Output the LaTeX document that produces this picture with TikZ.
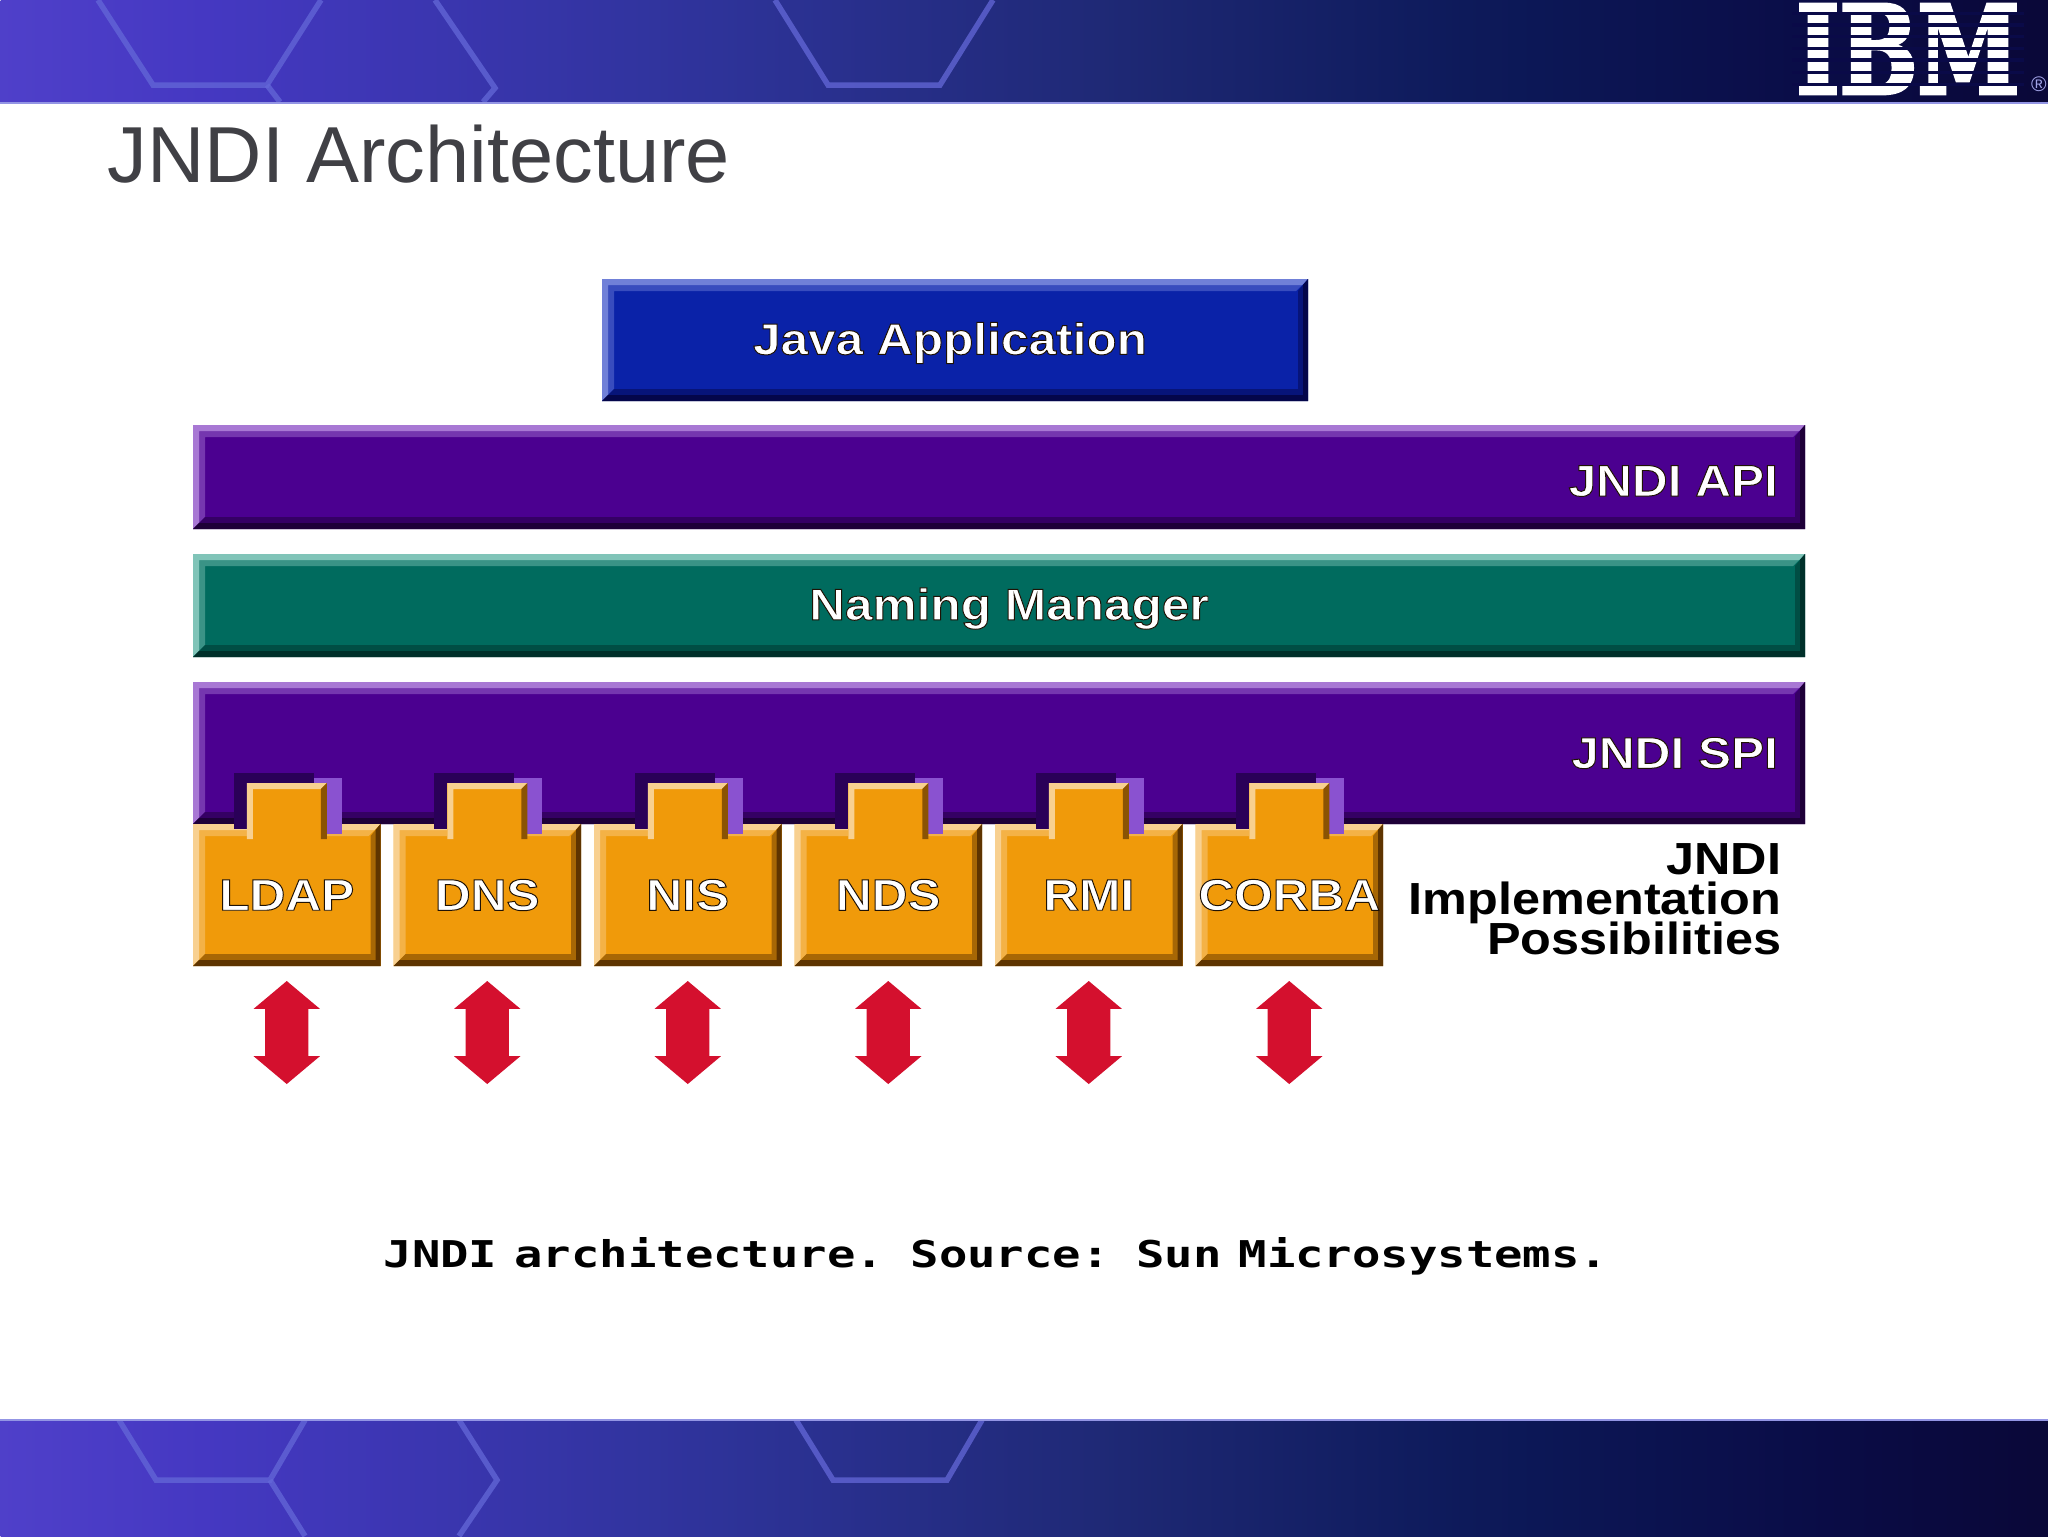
\documentclass[tikz,border=0pt]{standalone}
\usepackage{fontspec}
\usepackage{xcolor}
\usepackage{tikz}
\usetikzlibrary{shapes.arrows, positioning, calc}
\setmainfont{Liberation Sans}
\newfontfamily\labelfont[FakeStretch=1.12]{Liberation Sans}
\newfontfamily\captionfont[FakeStretch=1.28, WordSpace=0.6]{DejaVu Sans Mono}
\newfontfamily\logofont[FakeStretch=0.75]{DejaVu Serif}
\definecolor{titlegray}{HTML}{404045}
\definecolor{javablue}{HTML}{0A22A8}
\definecolor{javalight}{HTML}{7080D8}
\definecolor{javadark}{HTML}{04064A}
\definecolor{apipurple}{HTML}{4B0090}
\definecolor{apilight}{HTML}{A878D4}
\definecolor{apidark}{HTML}{1E0038}
\definecolor{notchdark}{HTML}{2A0058}
\definecolor{notchlight}{HTML}{8A52D0}
\definecolor{namingteal}{HTML}{006B5E}
\definecolor{naminglight}{HTML}{80C4B8}
\definecolor{namingdark}{HTML}{00302A}
\definecolor{plugorange}{HTML}{F09A0A}
\definecolor{pluglight}{HTML}{F8D090}
\definecolor{plugdark}{HTML}{5E3400}
\definecolor{arrowred}{HTML}{D4102E}
\definecolor{hexblue}{HTML}{6468D8}
\definecolor{logodark}{HTML}{0A0A48}
\pgfdeclarehorizontalshading{bannershade}{100bp}{
  rgb(0bp)=(0.31,0.25,0.79); rgb(25bp)=(0.31,0.25,0.79); rgb(30bp)=(0.27,0.22,0.76); rgb(42.5bp)=(0.18,0.20,0.60);
  rgb(52bp)=(0.12,0.16,0.46); rgb(61bp)=(0.05,0.10,0.35); rgb(69bp)=(0.04,0.05,0.28);
  rgb(75bp)=(0.04,0.03,0.22); rgb(100bp)=(0.04,0.03,0.22)}
\newcommand{\embossed}[1]{\special{pdf:code 2 Tr 0.28 w 0.12 0.07 0.02 RG}#1\special{pdf:code 0 Tr}}
\newcommand{\boxfont}{\labelfont\bfseries\fontsize{12.6}{14}\selectfont}

\begin{document}
\begin{tikzpicture}[
  x=0.1mm, y=-0.1mm,
  banner/.style={rectangle, inner sep=0pt, minimum width=204.8mm, shading=bannershade, anchor=north west},
  hexline/.style={draw=hexblue, line width=0.55mm, opacity=0.75},
  bevel/.style n args={3}{rectangle, inner sep=0pt, outer sep=0pt, fill=#1, text=white, font=\boxfont,
    path picture={
      \path (path picture bounding box.north west) coordinate (nw)
            (path picture bounding box.north east) coordinate (ne)
            (path picture bounding box.south west) coordinate (sw)
            (path picture bounding box.south east) coordinate (se);
      \fill[#1!55!#2] (sw) -- (nw) -- (ne) -- ([shift={(-12,12)}]ne) -- ([shift={(12,12)}]nw) -- ([shift={(12,-12)}]sw) -- cycle;
      \fill[#2] (sw) -- (nw) -- (ne) -- ([shift={(-6,6)}]ne) -- ([shift={(6,6)}]nw) -- ([shift={(6,-6)}]sw) -- cycle;
      \fill[#1!50!#3] (sw) -- (se) -- (ne) -- ([shift={(-10,12)}]ne) -- ([shift={(-10,-12)}]se) -- ([shift={(12,-12)}]sw) -- cycle;
      \fill[#3] (sw) -- (se) -- (ne) -- ([shift={(-5,6)}]ne) -- ([shift={(-5,-6)}]se) -- ([shift={(6,-6)}]sw) -- cycle;
    }},
  bar/.style={bevel={apipurple}{apilight}{apidark}, minimum width=161.2mm},
  plugbox/.style={bevel={plugorange}{pluglight}{plugdark}, minimum width=18.75mm, minimum height=14.2mm},
  plugtab/.style={rectangle, inner sep=0pt, outer sep=0pt, fill=plugorange, minimum width=8mm, minimum height=5.6mm,
    preaction={fill=notchlight, transform canvas={xshift=1.5mm, yshift=0.5mm}},
    preaction={fill=notchdark, transform canvas={xshift=-1.3mm, yshift=1mm}},
    path picture={
      \path (path picture bounding box.north west) coordinate (nw)
            (path picture bounding box.north east) coordinate (ne)
            (path picture bounding box.south west) coordinate (sw)
            (path picture bounding box.south east) coordinate (se);
      \fill[pluglight] (sw) -- (nw) -- (ne) -- ([shift={(-6,6)}]ne) -- ([shift={(6,6)}]nw) -- ([shift={(6,0)}]sw) -- cycle;
      \fill[plugdark!70!plugorange] (se) -- (ne) -- ([shift={(-6,6)}]ne) -- ([shift={(-6,0)}]se) -- cycle;
    }},
  boxlabel/.style={inner sep=0pt, outer sep=0pt, text=white, font=\boxfont},
  bothways/.style={double arrow, draw=none, fill=arrowred, inner sep=2.1mm, outer sep=0pt, shape border rotate=90,
    minimum height=10.3mm, double arrow head extend=1.15mm,
    double arrow head indent=0pt, double arrow tip angle=100}
]
\useasboundingbox (0,0) rectangle (2048,1536);

% Top banner
\node[banner, minimum height=10.2mm] (topbar) at (0,0) {};
\draw[hexblue!70!white, line width=0.2mm] (topbar.south west) -- (topbar.south east);
\begin{scope}
  \clip (0,0) rectangle (2048,101);
  \draw[hexline] (98,0) -- (153,85) -- (267,85) -- (321,0);
  \draw[hexline] (267,85) -- (280,102);
  \draw[hexline] (435,0) -- (495,88) -- (483,102);
  \draw[hexline] (775,0) -- (828,85) -- (940,85) -- (993,0);
\end{scope}

% Logo
\node[inner sep=0pt, text=white, font=\logofont\bfseries\fontsize{35}{35}\selectfont] (ibmlogo) at (1908,49) {\special{pdf:code 2 Tr 0.9 w 1 1 1 RG}IBM\special{pdf:code 0 Tr}};
\foreach \rowy in {13.5,25,36.5,48.5,60,72.5,84.5}
  \draw[logodark, line width=0.32mm] (1792,\rowy) -- (2024,\rowy);
\node[inner sep=0pt, text=hexblue!60!white, font=\fontsize{6}{6}\selectfont, right=1mm of ibmlogo.south east, yshift=1mm] (ibmmark) {®};

% Title
\node[anchor=base west, inner sep=0pt, text=titlegray, font=\fontsize{22.6}{26}\selectfont] (title) at (107,182) {JNDI Architecture};

% Layers
\node[bevel={javablue}{javalight}{javadark}, minimum width=70.6mm, minimum height=12.2mm, anchor=north west] (java) at (602,279) {};
\node[bar, minimum height=10.4mm, anchor=north west] (api) at (193,425) {};
\node[bevel={namingteal}{naminglight}{namingdark}, minimum width=161.2mm, minimum height=10.3mm, below=2.5mm of api] (naming) {};
\node[bar, minimum height=14.2mm, below=2.5mm of naming] (spi) {};
\node[boxlabel, xshift=-0.5mm, yshift=-0.3mm] (javalabel) at (java.center) {\embossed{Java Application}};
\node[boxlabel, left=2.7mm of api.east, yshift=-0.4mm] (apilabel) {\embossed{JNDI API}};
\node[boxlabel, xshift=1mm, yshift=-0.3mm] (naminglabel) at (naming.center) {\embossed{Naming Manager}};
\node[boxlabel, left=2.7mm of spi.east] (spilabel) {\embossed{JNDI SPI}};

% Provider boxes
\node[plugbox, anchor=north west] (ldap) at (spi.south west) {\embossed{LDAP}};
\node[plugbox, right=1.3mm of ldap] (dns) {\embossed{DNS}};
\node[plugbox, right=1.3mm of dns] (nis) {\embossed{NIS}};
\node[plugbox, right=1.3mm of nis] (nds) {\embossed{NDS}};
\node[plugbox, right=1.3mm of nds] (rmi) {\embossed{RMI}};
\node[plugbox, right=1.3mm of rmi] (corba) {\embossed{CORBA}};

% Tabs into the SPI bar
\node[plugtab, above=-1.5mm of ldap] (ldaptab) {};
\node[plugtab, above=-1.5mm of dns] (dnstab) {};
\node[plugtab, above=-1.5mm of nis] (nistab) {};
\node[plugtab, above=-1.5mm of nds] (ndstab) {};
\node[plugtab, above=-1.5mm of rmi] (rmitab) {};
\node[plugtab, above=-1.5mm of corba] (corbatab) {};

\node[anchor=north east, inner sep=0pt, align=right, text=black, font=\labelfont\bfseries\fontsize{12.8}{11.3}\selectfont] (impl) at (1782,843) {JNDI\\Implementation\\[-1.45pt]Possibilities};

% Red arrows
\node[bothways, below=1.5mm of ldap] (ldaparrow) {};
\node[bothways, below=1.5mm of dns] (dnsarrow) {};
\node[bothways, below=1.5mm of nis] (nisarrow) {};
\node[bothways, below=1.5mm of nds] (ndsarrow) {};
\node[bothways, below=1.5mm of rmi] (rmiarrow) {};
\node[bothways, below=1.5mm of corba] (corbaarrow) {};

% Caption
\node[anchor=base, inner sep=0pt, font=\captionfont\bfseries\fontsize{10.5}{12}\selectfont] (caption) at (996,1267) {JNDI architecture. Source: Sun Microsystems.};

% Bottom banner
\node[banner, minimum height=11.6mm] (bottombar) at (0,1420) {};
\draw[hexblue!70!white, line width=0.2mm] (bottombar.north west) -- (bottombar.north east);
\begin{scope}
  \clip (0,1421) rectangle (2048,1536);
  \draw[hexline] (119,1420) -- (156,1480) -- (270,1480) -- (305,1420);
  \draw[hexline] (270,1480) -- (305,1536);
  \draw[hexline] (459,1420) -- (497,1480) -- (459,1536);
  \draw[hexline] (796,1420) -- (833,1480) -- (947,1480) -- (982,1420);
\end{scope}
\end{tikzpicture}
\end{document}
